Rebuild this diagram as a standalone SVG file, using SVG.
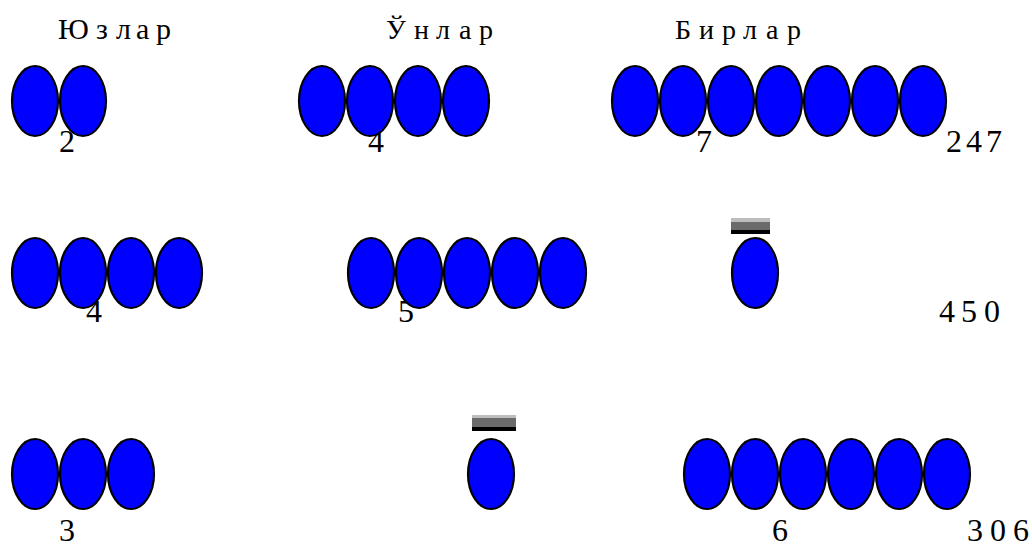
<svg xmlns="http://www.w3.org/2000/svg" width="1032" height="548" viewBox="0 0 1032 548">
<style>
.b{fill:#0000ff;stroke:#000;stroke-width:2.2}
.t{font-family:"Liberation Serif","Times New Roman",serif;fill:#000}
.h{font-size:28px}
.n{font-size:32px}
</style>
<defs>
<ellipse id="e" class="b" cx="0" cy="0" rx="23" ry="35"/>
<g id="bar1"><rect x="0" y="0" width="39" height="4" fill="#bdbdbd"/><rect x="0" y="4" width="39" height="8" fill="#6b6b6b"/><rect x="0" y="12" width="39" height="4" fill="#000"/></g>
<g id="bar2"><rect x="0" y="0" width="44" height="3" fill="#bdbdbd"/><rect x="0" y="3" width="44" height="9" fill="#6b6b6b"/><rect x="0" y="12" width="44" height="4" fill="#000"/></g>
</defs>
<rect width="1032" height="548" fill="#fff"/>
<g id="headers">
<text class="t" font-size="30" y="39" x="58 96 116 136 156">Юзлар</text>
<text class="t h" y="39" x="386 414 436 459 479">Ўнлар</text>
<text class="t h" y="39" x="675 699 722 743 766 787">Бирлар</text>
</g>
<g id="row1-tens">
<text class="t n" x="59" y="152">2</text>
<use href="#e" x="35" y="101"/><use href="#e" x="83" y="101"/>
</g>
<g id="row1-units">
<text class="t n" x="368" y="152">4</text>
<use href="#e" x="322" y="101"/><use href="#e" x="370" y="101"/><use href="#e" x="418" y="101"/><use href="#e" x="466" y="101"/>
</g>
<g id="row1-ones">
<text class="t n" x="696" y="152">7</text>
<use href="#e" x="635" y="101"/><use href="#e" x="683" y="101"/><use href="#e" x="731" y="101"/><use href="#e" x="779" y="101"/><use href="#e" x="827" y="101"/><use href="#e" x="875" y="101"/><use href="#e" x="923" y="101"/>
</g>
<g id="row1-total"><text class="t n" y="152" x="946 966 986">247</text></g>
<g id="row2-hundreds">
<text class="t n" x="86" y="322">4</text>
<use href="#e" x="35" y="273"/><use href="#e" x="83" y="273"/><use href="#e" x="131" y="273"/><use href="#e" x="179" y="273"/>
</g>
<g id="row2-tens">
<text class="t n" x="398" y="322">5</text>
<use href="#e" x="371" y="273"/><use href="#e" x="419" y="273"/><use href="#e" x="467" y="273"/><use href="#e" x="515" y="273"/><use href="#e" x="563" y="273"/>
</g>
<g id="row2-ones">
<use href="#bar1" x="731" y="218"/>
<use href="#e" x="755" y="273"/>
</g>
<g id="row2-total"><text class="t n" y="322" x="939 961 984">450</text></g>
<g id="row3-hundreds">
<text class="t n" x="59" y="541">3</text>
<use href="#e" x="35" y="474"/><use href="#e" x="83" y="474"/><use href="#e" x="131" y="474"/>
</g>
<g id="row3-tens">
<use href="#bar2" x="472" y="415"/>
<use href="#e" x="491" y="474"/>
</g>
<g id="row3-ones">
<text class="t n" x="772" y="541">6</text>
<use href="#e" x="707" y="474"/><use href="#e" x="755" y="474"/><use href="#e" x="803" y="474"/><use href="#e" x="851" y="474"/><use href="#e" x="899" y="474"/><use href="#e" x="947" y="474"/>
</g>
<g id="row3-total"><text class="t n" y="541" x="967 990 1013">306</text></g>
<g id="connectors"/>
</svg>
